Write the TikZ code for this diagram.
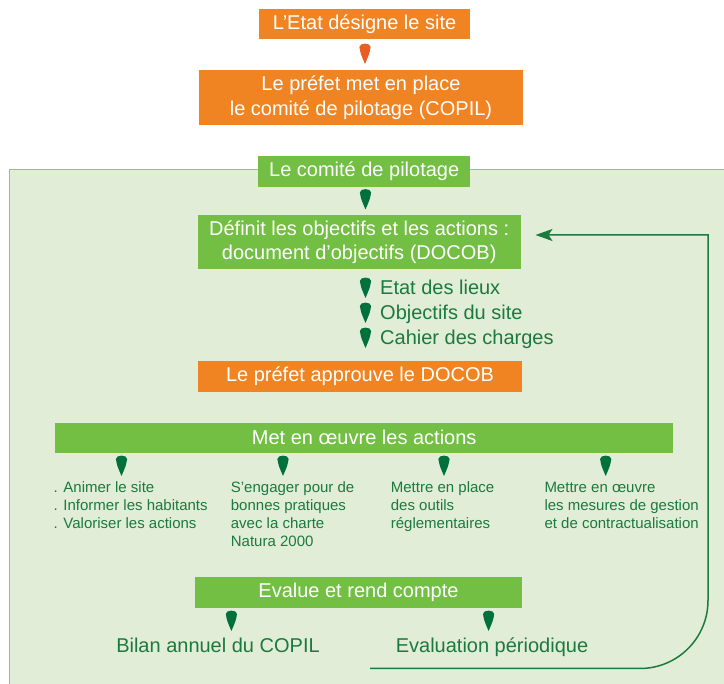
\documentclass[tikz,border=0pt]{standalone}
\usepackage{xcolor}
\usepackage{fontspec}
\setmainfont{Liberation Sans}
\usetikzlibrary{arrows.meta}

\definecolor{orangebox}{HTML}{F18422}
\definecolor{orangemark}{HTML}{E95E22}
\definecolor{greenbox}{HTML}{72BF44}
\definecolor{greenbg}{HTML}{E1EDD6}
\definecolor{greenrule}{HTML}{8DC97B}
\definecolor{greentext}{HTML}{1B7A3E}
\definecolor{greenmark}{HTML}{00703C}

\begin{document}
\begin{tikzpicture}[x=1pt,y=-1pt,
    box/.style={inner sep=0pt,align=center,text=white,font=\fontsize{20}{24.5}\selectfont},
    obox/.style={box,fill=orangebox},
    gbox/.style={box,fill=greenbox},
    item/.style={inner sep=0pt,text=greentext,font=\fontsize{20}{24}\selectfont},
    small/.style={inner sep=0pt,align=left,anchor=north west,text=greentext,font=\fontsize{15}{18}\selectfont},
    drop/.pic={\path[pic actions] (-5.6pt,6.5pt) .. controls (-5.6pt,11pt) and (5.6pt,11pt) .. (5.6pt,6.5pt)
        .. controls (4.5pt,0pt) .. (0pt,-10.5pt) .. controls (-4.5pt,0pt) .. (-5.6pt,6.5pt) -- cycle;}]
  \useasboundingbox (0,0) rectangle (724,684);
  \clip (0,0) rectangle (724,684);

  \fill[greenbg] (9.5,169.5) rectangle (740,700);
  \draw[greenrule,line width=1.5pt] (740,169.5) -- (9.5,169.5) -- (9.5,700);

  \node[obox,minimum width=211pt,minimum height=30pt] (etat) at (364.5,24.2) {L’Etat désigne le site};
  \node[obox,minimum width=324pt,minimum height=55pt] (prefet) at (361,97.5) {Le préfet met en place\\le comité de pilotage (COPIL)};
  \pic[fill=orangemark] at (365,53.5) {drop};

  \node[gbox,minimum width=211.5pt,minimum height=30.5pt] (copil) at (364.2,171.3) {Le comité de pilotage};
  \pic[fill=greenmark] at (365.5,199) {drop};
  \node[gbox,minimum width=323pt,minimum height=54pt] (definit) at (359.2,242) {Définit les objectifs et les actions :\\ document d’objectifs (DOCOB)};

  \foreach \t [count=\i] in {Etat des lieux,Objectifs du site,Cahier des charges}{
    \pic[fill=greenmark] at (365.5,262.5+25*\i) {drop};
    \node[item,anchor=base west] (list\i) at (380,270+25*\i) {\t};
  }

  \node[obox,minimum width=324pt,minimum height=31pt] (approuve) at (360,376.2) {Le préfet approuve le DOCOB};

  \node[gbox,minimum width=618pt,minimum height=30pt] (met) at (364.2,437.8) {Met en œuvre les actions};
  \foreach \x in {121.5,283,444,605.7}
    \pic[fill=greenmark] at (\x,465.5) {drop};
  \node[small] (animer) at (53.5,480.1) {\strut. Animer le site\\. Informer les habitants\\. Valoriser les actions};
  \node[small] (charte) at (230.7,480.1) {\strut S’engager pour de\\bonnes pratiques\\avec la charte\\Natura 2000};
  \node[small] (outils) at (390.7,480.1) {\strut Mettre en place\\des outils\\réglementaires};
  \node[small] (mesures) at (544.3,480.1) {\strut Mettre en œuvre\\les mesures de gestion\\et de contractualisation};

  \node[gbox,minimum width=327pt,minimum height=31pt] (evalue) at (358.5,592.2) {Evalue et rend compte};
  \pic[fill=greenmark] at (231.4,620.5) {drop};
  \pic[fill=greenmark] at (488.6,620.5) {drop};
  \node[item,anchor=base] (bilan) at (218,653) {Bilan annuel du COPIL};
  \node[item,anchor=base] (periodique) at (492,653) {Evaluation périodique};

  \coordinate (loopstart) at (370,668.5);
  \coordinate (looptop) at (708,235);
  \coordinate (loopend) at (535.5,235);
  \draw[greentext,line width=1.5pt,-{Stealth[length=17pt,width=12pt,inset=4pt]}]
    (loopstart) -- (640,668.5) arc[start angle=90,end angle=0,radius=68] -- (looptop) -- (loopend);
\end{tikzpicture}
\end{document}
